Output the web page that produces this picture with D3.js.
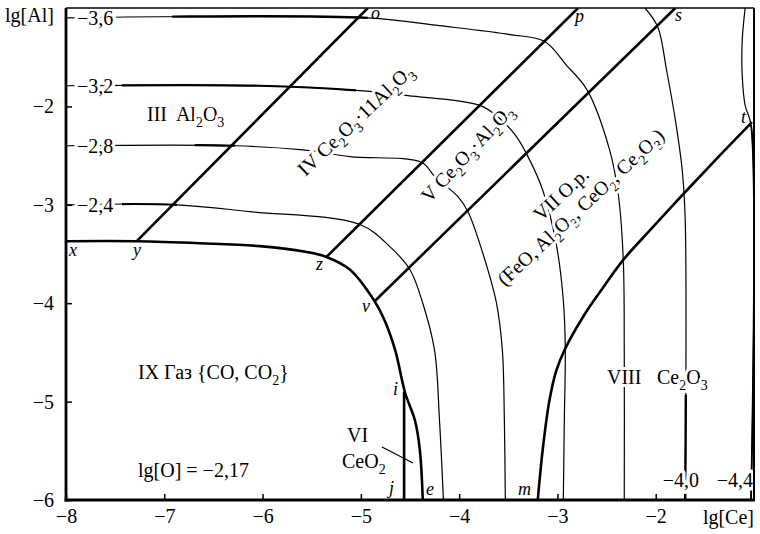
<!DOCTYPE html>
<html><head><meta charset="utf-8">
<script src="https://cdn.jsdelivr.net/npm/d3@7"></script>
<style>
body{margin:0;background:#fff}
svg{display:block}
text{font-family:"Liberation Serif","Times New Roman",serif;white-space:pre}
</style>
</head><body>
<svg id="c" width="760" height="534"></svg>
<script>
// ---------- axes ----------
const xTicks = [-8, -7, -6, -5, -4, -3, -2];
const xTickLabels = ["−8", "−7", "−6", "−5", "−4", "−3", "−2"];
const yTicks = [-6, -5, -4, -3, -2];
const yTickLabels = ["−6", "−5", "−4", "−3", "−2"];
const xTitle = "lg[Ce]";
const yTitle = "lg[Al]";

// ---------- phase boundaries (lg[Ce], lg[Al]) ----------
const gasX = [-8, -7.28, -6.64, -6.03, -5.55, -5.35, -5.11, -4.86, -4.76, -4.65, -4.55, -4.45, -4.40, -4.37];
const gasY = [-3.37, -3.37, -3.39, -3.42, -3.48, -3.53, -3.66, -3.98, -4.17, -4.48, -4.91, -5.19, -5.49, -6];
const jiX = [-4.56, -4.56];
const jiY = [-6, -4.90];
const yoX = [-7.28, -4.93];
const yoY = [-3.37, -1];
const zpX = [-5.35, -2.79];
const zpY = [-3.53, -1];
const vsX = [-4.86, -1.80];
const vsY = [-3.98, -1];
const mtX = [-3.20, -3.15, -3.08, -3.01, -2.92, -2.74, -2.57, -2.33, -2.06, -1.70, -1.35, -1.02];
const mtY = [-6, -5.49, -4.98, -4.68, -4.46, -4.14, -3.89, -3.56, -3.26, -2.87, -2.50, -2.16];

// ---------- lg[O] isolines ----------
const isoLabels = ["−3,6", "−3,2", "−2,8", "−2,4", "−4,0", "−4,4"];
const iso36X = [-8, -4.93, -4.20, -3.48, -3.13, -2.91, -2.70, -2.47, -2.38, -2.33, -2.32, -2.32];
const iso36Y = [-1.10, -1.10, -1.18, -1.27, -1.34, -1.58, -1.83, -2.44, -2.90, -3.56, -4.48, -6];
const iso32X = [-8, -6.03, -5.01, -4.52, -3.79, -3.59, -3.43, -3.31, -3.15, -3.01, -2.94, -2.92, -2.93, -2.94];
const iso32Y = [-1.79, -1.79, -1.84, -1.89, -1.99, -2.12, -2.29, -2.49, -2.85, -3.41, -3.97, -4.46, -5.19, -6];
const iso28X = [-8, -6.28, -5.62, -5.11, -4.38, -4.25, -4.01, -3.91, -3.76, -3.62, -3.56, -3.54, -3.53];
const iso28Y = [-2.40, -2.40, -2.44, -2.51, -2.57, -2.71, -2.92, -3.07, -3.49, -4.00, -4.48, -5.19, -6];
const iso24X = [-8, -6.87, -6.13, -5.01, -4.70, -4.50, -4.37, -4.25, -4.20, -4.16];
const iso24Y = [-3.00, -3.00, -3.07, -3.20, -3.43, -3.66, -4.00, -4.48, -5.19, -6];
const iso40X = [-2.11, -1.98, -1.89, -1.80, -1.73, -1.70, -1.70];
const iso40Y = [-1.00, -1.19, -1.63, -2.14, -2.65, -3.15, -6];
const iso44X = [-1.09, -1.12, -1.12, -1.09, -1.03, -1.03];
const iso44Y = [-1.00, -1.33, -1.68, -1.99, -2.19, -6];

// ---------- texts ----------
const regionTexts = ["III  Al_2O_3", "IV Ce_2O_3·11Al_2O_3", "V Ce_2O_3·Al_2O_3", "VI", "CeO_2",
  "VII O.p.", "(FeO, Al_2O_3, CeO_2, Ce_2O_3)", "VIII", "Ce_2O_3", "IX Газ {CO, CO_2}", "lg[O] = −2,17"];
const pointNames = ["o", "p", "s", "t", "x", "y", "z", "v", "i", "j", "e", "m"];

// ---------- drawing ----------
const svg = d3.select("#c");
const x = d3.scaleLinear().domain([-8, -1]).range([66, 754]);
const y = d3.scaleLinear().domain([-6, -1]).range([500, 8]);
const defs = svg.append("defs");
defs.append("clipPath").attr("id", "plot").append("rect")
  .attr("x", 66).attr("y", 8).attr("width", 688).attr("height", 492);

const smooth = d3.line().x(d => x(d[0])).y(d => y(d[1])).curve(d3.curveCatmullRom.alpha(0.5));
const straight = d3.line().x(d => x(d[0])).y(d => y(d[1]));

const plot = svg.append("g").attr("clip-path", "url(#plot)");

// isolines
const isolines = [
  {xs: iso36X, ys: iso36Y, heavy: {ax: "x", a: -6.92, b: -4.93, w: 2.4}},
  {xs: iso32X, ys: iso32Y, heavy: {ax: "x", a: -7.43, b: -5.05, w: 2.2}},
  {xs: iso28X, ys: iso28Y, heavy: {ax: "x", a: -6.69, b: -6.28, w: 2.2}},
  {xs: iso24X, ys: iso24Y, heavy: {ax: "x", a: -7.43, b: -6.87, w: 2.2}},
  {xs: iso40X, ys: iso40Y, heavy: {ax: "y", a: -6, b: -4.93, w: 2.4}},
  {xs: iso44X, ys: iso44Y, heavy: {ax: "y", a: -6, b: -2.19, w: 1.8}}
];
isolines.forEach((L, i) => {
  const pts = d3.zip(L.xs, L.ys);
  plot.append("path").attr("d", smooth(pts)).attr("fill", "none")
    .attr("stroke", "#000").attr("stroke-width", 1.2);
  if (L.heavy) {
    const id = "hv" + i;
    const r = defs.append("clipPath").attr("id", id).append("rect");
    if (L.heavy.ax === "x") {
      r.attr("x", x(L.heavy.a)).attr("width", x(L.heavy.b) - x(L.heavy.a)).attr("y", 0).attr("height", 534);
    } else {
      r.attr("y", y(L.heavy.b)).attr("height", y(L.heavy.a) - y(L.heavy.b)).attr("x", 0).attr("width", 760);
    }
    plot.append("g").attr("clip-path", "url(#" + id + ")").append("path")
      .attr("d", smooth(pts)).attr("fill", "none")
      .attr("stroke", "#000").attr("stroke-width", L.heavy.w);
  }
});

// rich text helper (subscripts marked with _digits)
function rich(sel, str, size) {
  const parts = str.split(/(_\d+)/).filter(s => s.length);
  let sub = false;
  parts.forEach(p => {
    if (p.startsWith("_")) {
      sel.append("tspan").attr("font-size", size * 0.7).attr("dy", size * 0.28).text(p.slice(1));
      sub = true;
    } else {
      const t = sel.append("tspan").text(p);
      if (sub) t.attr("dy", -size * 0.28);
      sub = false;
    }
  });
  return sel;
}
function label(str, px, py, opts = {}) {
  const size = opts.size || 20;
  const t = svg.append("text")
    .attr("transform", `translate(${px},${py})` + (opts.rot ? ` rotate(${opts.rot})` : ""))
    .attr("font-size", size)
    .attr("text-anchor", opts.anchor || "start")
    .attr("fill", "#000");
  if (opts.italic) t.attr("font-style", "italic");
  if (opts.halo) t.attr("stroke", "#fff").attr("stroke-width", opts.halo)
    .attr("stroke-linejoin", "round").attr("paint-order", "stroke");
  rich(t, str, size);
  return t;
}

// isoline labels
[0, 1, 2, 3].forEach(i => {
  label(isoLabels[i], 77, y(isolines[i].ys[0]) + 7, {halo: 7});
});
label(isoLabels[4], 699, 487, {anchor: "end", halo: 7});
label(isoLabels[5], 753, 487, {anchor: "end", halo: 7});

// VI leader
svg.append("line").attr("x1", 382).attr("y1", 447).attr("x2", 413).attr("y2", 463)
  .attr("stroke", "#000").attr("stroke-width", 1.2);

// region labels
label(regionTexts[0], 147, 121, {halo: 6});
label(regionTexts[1], 360, 125, {anchor: "middle", rot: -43.5, halo: 6});
label(regionTexts[2], 472, 158, {anchor: "middle", rot: -47, halo: 6});
label(regionTexts[3], 347, 442, {halo: 4});
label(regionTexts[4], 342, 468, {halo: 4});
label(regionTexts[5], 541, 222, {rot: -43, halo: 6});
label(regionTexts[6], 505, 287, {rot: -43, halo: 6});
label(regionTexts[7], 607, 384, {halo: 6});
label(regionTexts[8], 657, 384, {halo: 6});
label(regionTexts[9], 138, 379, {});
label(regionTexts[10], 138, 477, {});

// thick phase boundaries
const thick = svg.append("g").attr("clip-path", "url(#plot)")
  .attr("fill", "none").attr("stroke", "#000").attr("stroke-width", 2.6);
thick.append("path").attr("d", smooth(d3.zip(gasX, gasY)));
thick.append("path").attr("d", straight(d3.zip(jiX, jiY)));
thick.append("path").attr("d", straight(d3.zip(yoX, yoY)));
thick.append("path").attr("d", straight(d3.zip(zpX, zpY)));
thick.append("path").attr("d", straight(d3.zip(vsX, vsY)));
thick.append("path").attr("d", smooth(d3.zip(mtX, mtY)));

// point labels
const ptPos = [[371, 19], [575, 22], [675, 21], [741, 123], [69, 256], [133, 256],
  [316, 270], [362, 312], [393, 395], [389, 494], [426, 495], [518, 495]];
pointNames.forEach((n, i) => label(n, ptPos[i][0], ptPos[i][1], {italic: true, size: 18}));

// frame
svg.append("line").attr("x1", 66).attr("x2", 754).attr("y1", 8).attr("y2", 8)
  .attr("stroke", "#000").attr("stroke-width", 1.3);
svg.append("line").attr("x1", 754).attr("x2", 754).attr("y1", 8).attr("y2", 500)
  .attr("stroke", "#000").attr("stroke-width", 2);

// axes
const gx = svg.append("g").attr("transform", "translate(0,500)")
  .call(d3.axisBottom(x).tickValues(xTicks).tickFormat((d, i) => xTickLabels[i])
    .tickSizeInner(-6).tickSizeOuter(0).tickPadding(9));
const gy = svg.append("g").attr("transform", "translate(66,0)")
  .call(d3.axisLeft(y).tickValues(yTicks).tickFormat((d, i) => yTickLabels[i])
    .tickSizeInner(-6).tickSizeOuter(0).tickPadding(12));
[gx, gy].forEach(g => {
  g.attr("font-family", "Liberation Serif, Times New Roman, serif").attr("font-size", 20);
  g.select(".domain").attr("stroke-width", 2.8);
  g.selectAll(".tick line").attr("stroke-width", 1.5);
  g.selectAll(".tick text").attr("fill", "#000");
});
gx.select(".domain").attr("d", "M64.6,0H755");
gy.select(".domain").attr("d", "M0,8V501.4");

svg.append("text").attr("x", 5).attr("y", 22).attr("font-size", 20).text(yTitle);
svg.append("text").attr("x", 754).attr("y", 524).attr("font-size", 20)
  .attr("text-anchor", "end").text(xTitle);
</script>
</body></html>
